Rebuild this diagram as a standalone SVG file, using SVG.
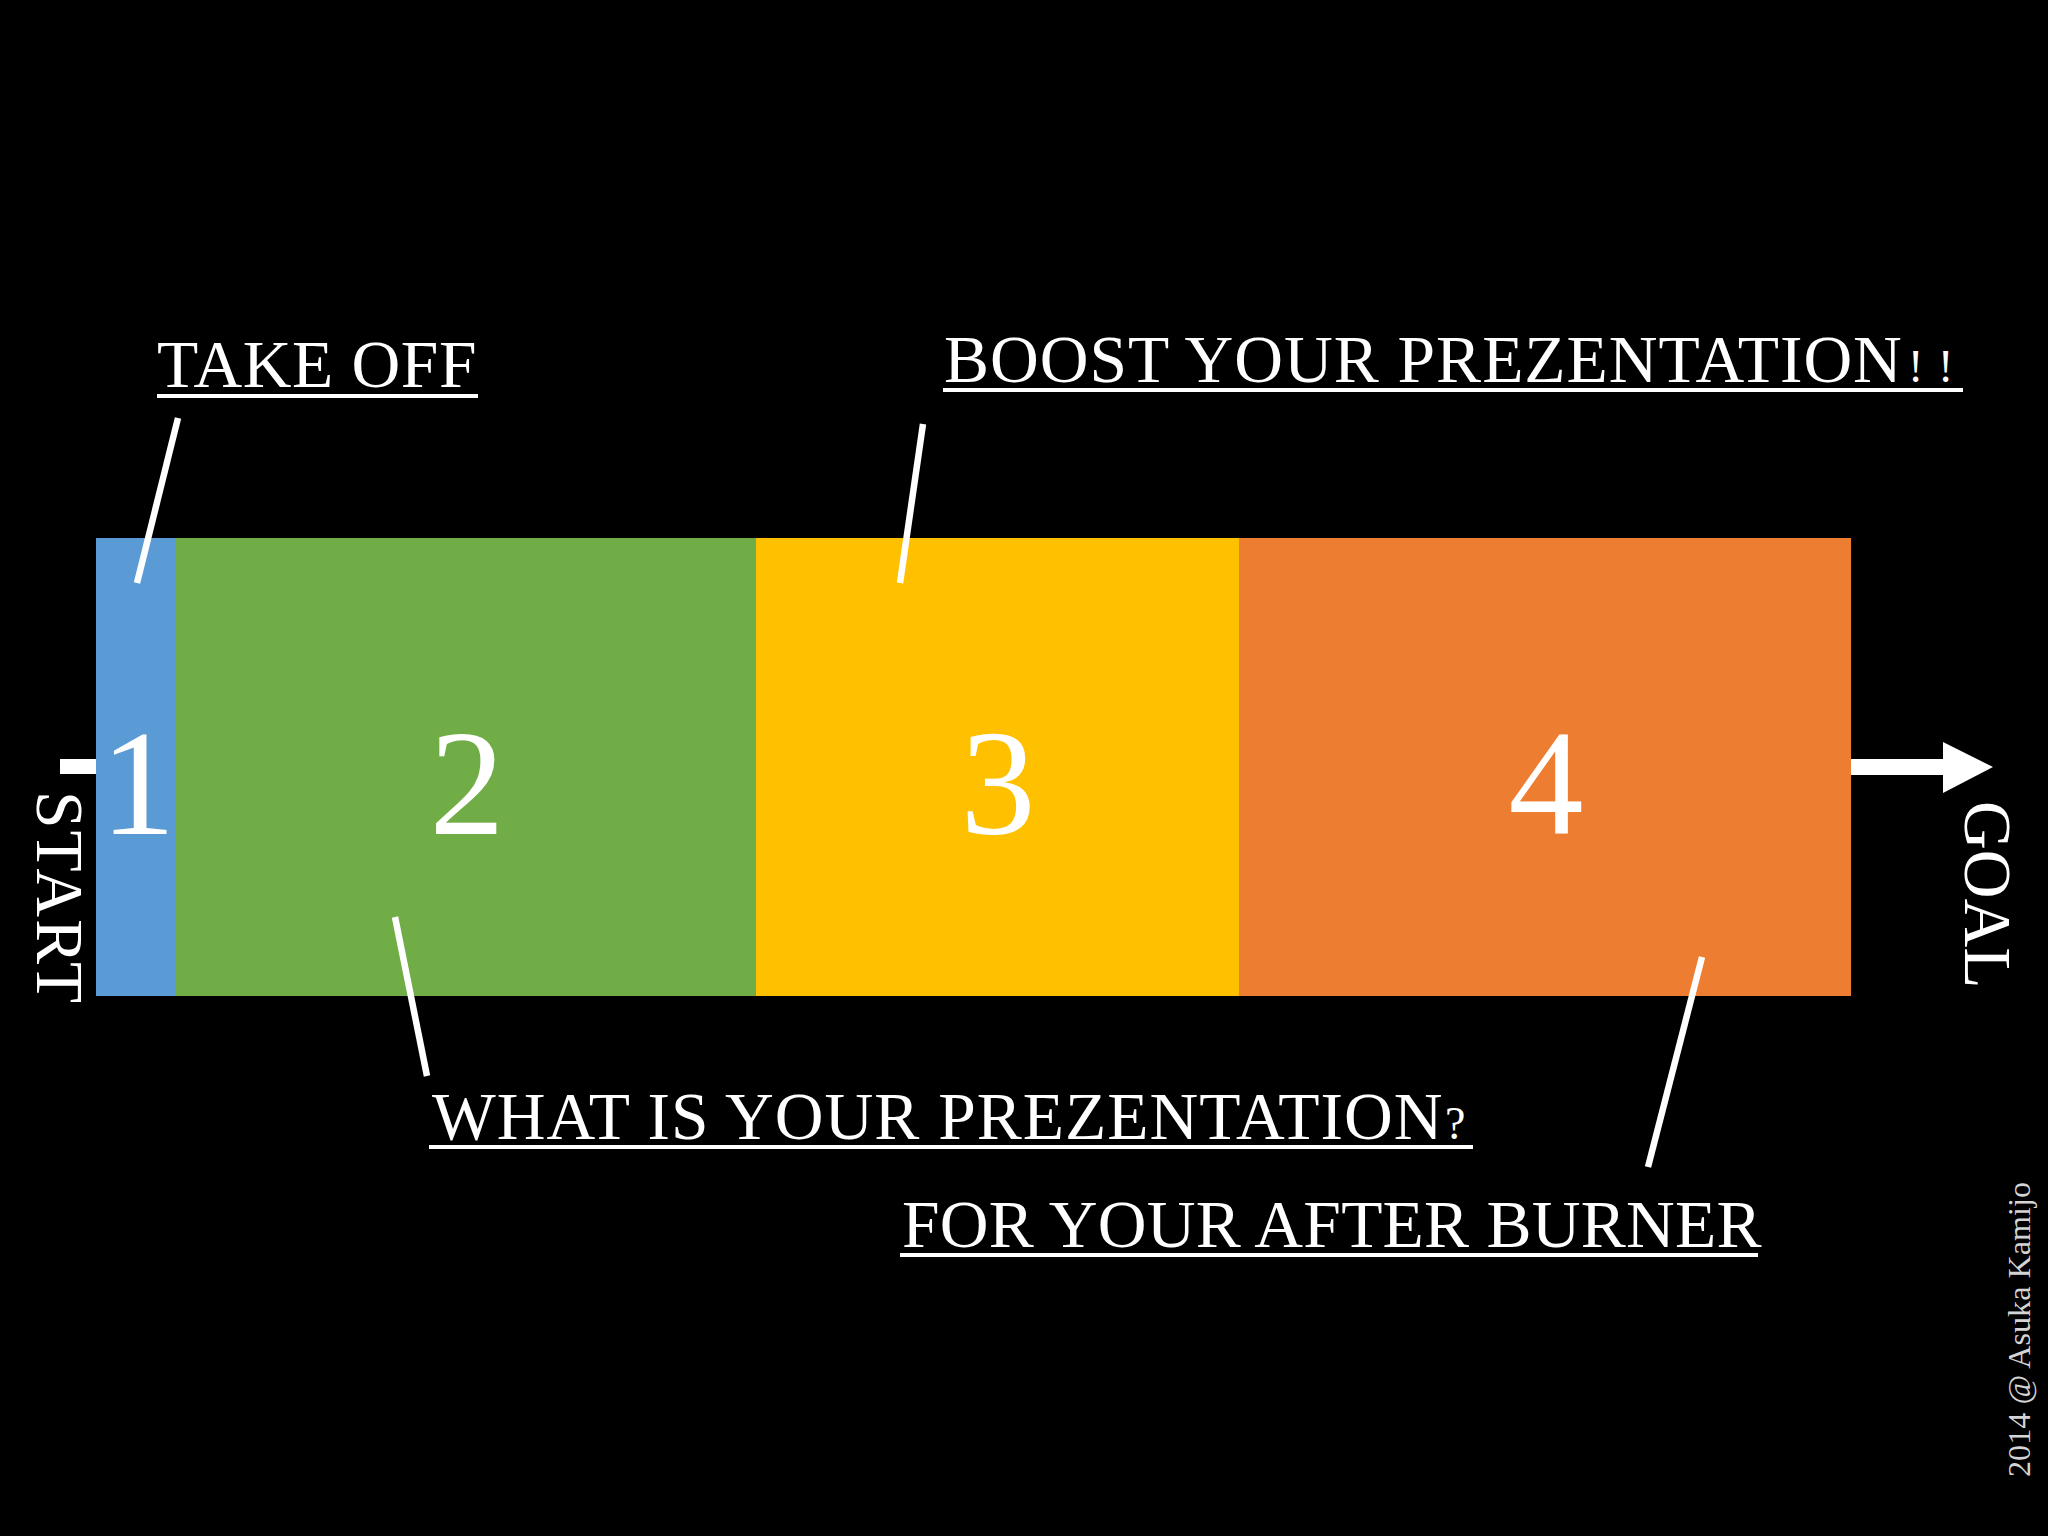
<svg xmlns="http://www.w3.org/2000/svg" width="2048" height="1536" viewBox="0 0 2048 1536">
<style>
.lbl{font-family:"Liberation Serif","Times New Roman",serif;font-size:67.5px;fill:#fff}
.num{font-family:"Liberation Serif","Times New Roman",serif;font-size:150px;fill:#fff;text-anchor:middle}
.ul{stroke:#fff;stroke-width:4}
.lead{stroke:#fff;stroke-width:6.5;stroke-linecap:butt}
.small{font-size:46px;letter-spacing:0}
</style>
<rect x="0" y="0" width="2048" height="1536" fill="#000"/>
<g id="seg1"><rect x="96" y="538" width="80" height="458" fill="#5B9BD5"/><text class="num" x="138" y="834">1</text></g>
<g id="seg2"><rect x="176" y="538" width="580" height="458" fill="#70AD47"/><text class="num" x="467" y="834">2</text></g>
<g id="seg3"><rect x="756" y="538" width="483" height="458" fill="#FFC000"/><text class="num" x="998" y="834">3</text></g>
<g id="seg4"><rect x="1239" y="538" width="612" height="458" fill="#ED7D31"/><text class="num" x="1546" y="834">4</text></g>
<g id="start"><rect x="60" y="759" width="36" height="15" fill="#fff"/><text class="lbl" letter-spacing="2" transform="translate(37,791) rotate(90)">START</text></g>
<g id="goal"><rect x="1851" y="759" width="93" height="16" fill="#fff"/><polygon points="1943,742 1993,767 1943,793" fill="#fff"/><text class="lbl" transform="translate(1965,801) rotate(90)">GOAL</text></g>
<g id="takeoff"><text class="lbl" letter-spacing="0.6" x="157" y="387">TAKE OFF</text><line class="ul" x1="157" y1="396" x2="478" y2="396"/></g>
<g id="boost"><text class="lbl" letter-spacing="1" x="944" y="382">BOOST YOUR PREZENTATION<tspan class="small" x="1908">!</tspan><tspan class="small" x="1938">!</tspan></text><line class="ul" x1="943" y1="390" x2="1963" y2="390"/></g>
<g id="what"><text class="lbl" letter-spacing="1" x="432" y="1139">WHAT IS YOUR PREZENTATION<tspan class="small" x="1445">?</tspan></text><line class="ul" x1="429" y1="1147" x2="1473" y2="1147"/></g>
<g id="after"><text class="lbl" letter-spacing="0.25" x="902" y="1247">FOR YOUR AFTER BURNER</text><line class="ul" x1="900" y1="1255" x2="1758" y2="1255"/></g>
<g id="connectors">
<line class="lead" x1="178" y1="418" x2="137" y2="583"/>
<line class="lead" x1="923" y1="424" x2="900" y2="583"/>
<line class="lead" x1="395" y1="917" x2="427" y2="1076"/>
<line class="lead" x1="1702" y1="957" x2="1648" y2="1167"/>
</g>
<g id="credit"><text transform="translate(2030,1477) rotate(-90)" font-family="Liberation Serif,Times New Roman,serif" font-size="32" fill="#d4d4d4" textLength="295" lengthAdjust="spacingAndGlyphs">2014 @ Asuka Kamijo</text></g>
</svg>
